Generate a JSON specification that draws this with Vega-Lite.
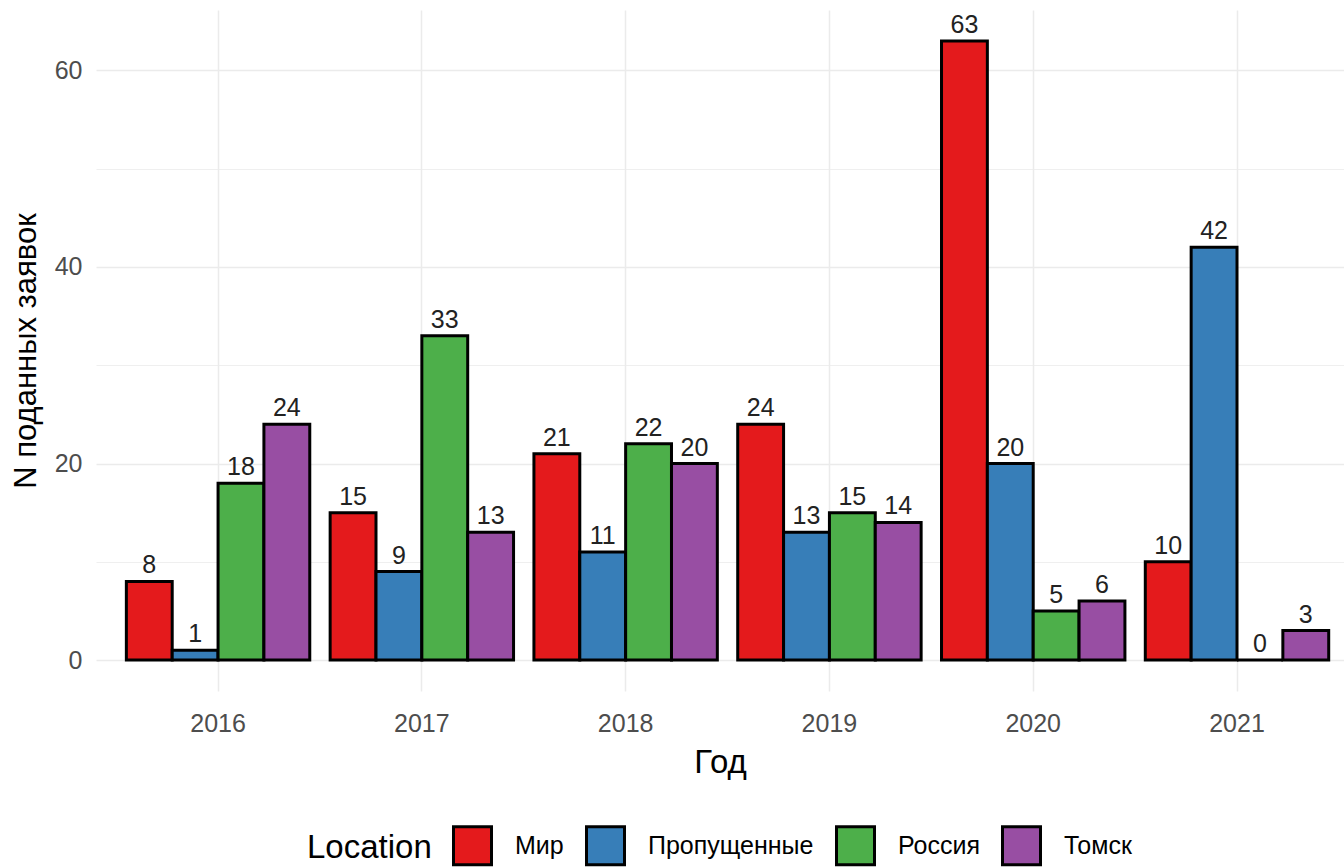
{
  "$schema": "https://vega.github.io/schema/vega-lite/v6.json",
  "autosize": "none",
  "padding": {"left": 96, "top": 10, "right": 0, "bottom": 176},
  "width": 1248,
  "height": 681,
  "background": "white",
  "config": {
    "view": {"stroke": null},
    "font": "Liberation Sans"
  },
  "data": {
    "values": [
      {"year": "2016", "Location": "Мир", "n": 8},
      {"year": "2016", "Location": "Пропущенные", "n": 1},
      {"year": "2016", "Location": "Россия", "n": 18},
      {"year": "2016", "Location": "Томск", "n": 24},
      {"year": "2017", "Location": "Мир", "n": 15},
      {"year": "2017", "Location": "Пропущенные", "n": 9},
      {"year": "2017", "Location": "Россия", "n": 33},
      {"year": "2017", "Location": "Томск", "n": 13},
      {"year": "2018", "Location": "Мир", "n": 21},
      {"year": "2018", "Location": "Пропущенные", "n": 11},
      {"year": "2018", "Location": "Россия", "n": 22},
      {"year": "2018", "Location": "Томск", "n": 20},
      {"year": "2019", "Location": "Мир", "n": 24},
      {"year": "2019", "Location": "Пропущенные", "n": 13},
      {"year": "2019", "Location": "Россия", "n": 15},
      {"year": "2019", "Location": "Томск", "n": 14},
      {"year": "2020", "Location": "Мир", "n": 63},
      {"year": "2020", "Location": "Пропущенные", "n": 20},
      {"year": "2020", "Location": "Россия", "n": 5},
      {"year": "2020", "Location": "Томск", "n": 6},
      {"year": "2021", "Location": "Мир", "n": 10},
      {"year": "2021", "Location": "Пропущенные", "n": 42},
      {"year": "2021", "Location": "Россия", "n": 0},
      {"year": "2021", "Location": "Томск", "n": 3}
    ]
  },
  "encoding": {
    "x": {
      "field": "year",
      "type": "ordinal",
      "scale": {"paddingInner": 0.1, "paddingOuter": 0.112, "align": 0.665},
      "axis": {
        "title": "Год",
        "labelAngle": 0,
        "bandPosition": 0.5,
        "domain": false,
        "ticks": false,
        "tickSize": 0,
        "labelPadding": 20,
        "labelFontSize": 25,
        "labelColor": "#4D4D4D",
        "titleFontSize": 33,
        "titleFontWeight": "normal",
        "titleColor": "#000000",
        "titlePadding": 10,
        "grid": true,
        "gridColor": "#EBEBEB",
        "gridWidth": 1.5
      }
    },
    "xOffset": {
      "field": "Location",
      "type": "nominal",
      "scale": {"paddingInner": 0, "paddingOuter": 0}
    },
    "y": {
      "field": "n",
      "type": "quantitative",
      "scale": {"domain": [-3.15, 66.15], "nice": false, "zero": false},
      "axis": {
        "title": "N поданных заявок",
        "values": [0, 10, 20, 30, 40, 50, 60],
        "labelExpr": "datum.value % 20 === 0 ? datum.label : ''",
        "domain": false,
        "ticks": false,
        "tickSize": 0,
        "labelPadding": 14,
        "labelFontSize": 25,
        "labelColor": "#4D4D4D",
        "titleFontSize": 31,
        "titleFontWeight": "normal",
        "titleColor": "#000000",
        "titlePadding": 12,
        "grid": true,
        "gridColor": "#EBEBEB",
        "gridWidth": {"condition": {"test": "datum.value % 20 === 0", "value": 1.5}, "value": 0.8}
      }
    }
  },
  "layer": [
    {
      "mark": {"type": "bar", "stroke": "#000000", "strokeWidth": 3},
      "encoding": {
        "y2": {"datum": 0},
        "fill": {
          "field": "Location",
          "type": "nominal",
          "scale": {
            "domain": ["Мир", "Пропущенные", "Россия", "Томск"],
            "range": ["#E41A1C", "#377EB8", "#4DAF4A", "#984EA3"]
          },
          "legend": {
            "orient": "none",
            "direction": "horizontal",
            "legendX": 211,
            "legendY": 815,
            "title": "Location",
            "titleOrient": "left",
            "titleFontSize": 33,
            "titleFontWeight": "normal",
            "titleColor": "#000000",
            "titlePadding": 20,
            "titleBaseline": "middle",
            "labelFontSize": 25,
            "labelColor": "#000000",
            "labelOffset": 22,
            "labelLimit": 400,
            "columnPadding": 16,
            "symbolType": "square",
            "symbolSize": 1444,
            "symbolStrokeColor": "#000000",
            "symbolStrokeWidth": 3,
            "symbolOpacity": 1
          }
        }
      }
    },
    {
      "mark": {"type": "text", "baseline": "alphabetic", "dy": -8, "fontSize": 25, "color": "#222222"},
      "encoding": {
        "text": {"field": "n", "type": "quantitative"}
      }
    }
  ]
}
